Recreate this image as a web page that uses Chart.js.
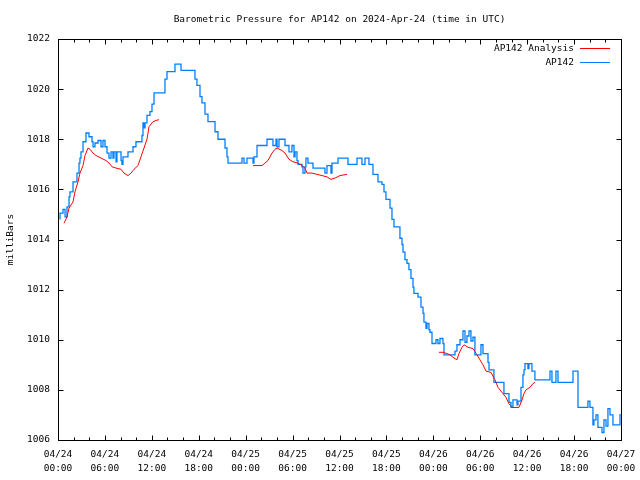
<!DOCTYPE html>
<html>
<head>
<meta charset="utf-8">
<script src="https://cdn.jsdelivr.net/npm/chart.js@4/dist/chart.umd.min.js"></script>
<style>
  html, body { margin: 0; padding: 0; background: #fff; }
  #wrap { width: 640px; height: 480px; }
</style>
</head>
<body>
<div id="wrap"><canvas id="myChart" width="640" height="480"></canvas></div>
<script>
// hours since 2024-04-24 00:00 UTC
const blueHours = [0.26, 0.64, 0.90, 1.15, 1.41, 1.53, 1.92, 2.43, 2.69, 2.81, 2.94, 3.20, 3.58, 3.96, 4.35, 4.48, 4.73, 5.12, 5.50, 5.75,
    6.01, 6.27, 6.52, 6.78, 7.03, 7.16, 7.42, 7.54, 8.06, 8.18, 8.31, 8.95, 9.59, 9.97, 10.74, 10.87, 11.00, 11.13, 11.38, 11.76,
    12.02, 12.28, 13.68, 13.94, 14.96, 15.73, 17.52, 17.77, 18.16, 18.41, 18.80, 19.18, 20.08, 20.46, 21.36, 21.61, 21.74, 23.53, 23.79, 24.17,
    24.94, 25.06, 25.45, 26.73, 27.49, 27.88, 28.01, 28.26, 29.03, 29.54, 29.92, 30.18, 30.31, 30.56, 30.69, 31.20, 31.33, 31.59, 31.71, 31.97,
    32.61, 34.14, 34.40, 34.91, 35.04, 35.81, 37.08, 38.24, 38.87, 39.26, 39.77, 40.28, 40.92, 41.43, 41.69, 41.94, 42.46, 42.71, 42.97, 43.73,
    43.99, 44.12, 44.37, 44.63, 44.88, 45.14, 45.40, 45.52, 46.04, 46.42, 46.68, 46.80, 47.06, 47.19, 47.44, 47.57, 47.83, 48.34, 48.59, 48.85,
    49.23, 49.36, 50.77, 51.02, 51.41, 51.79, 52.05, 52.30, 52.56, 52.81, 53.07, 53.32, 54.09, 54.35, 54.99, 55.12, 55.75, 57.03, 57.67, 57.93,
    58.18, 58.70, 58.82, 59.21, 59.46, 59.59, 59.72, 60.10, 60.23, 60.61, 60.99, 62.92, 63.17, 63.68, 63.94, 65.86, 66.50, 67.77, 68.03, 68.41,
    68.54, 68.80, 69.05, 69.57, 69.82, 70.08, 70.33, 70.59, 70.97, 71.87, 72.0];
const bluePressure = [1014.8, 1015.05, 1015.2, 1014.9, 1015.3, 1015.7, 1015.9, 1016.3, 1016.65, 1017.05, 1017.25, 1017.5, 1017.9, 1018.25, 1018.1, 1017.9, 1017.7, 1017.85, 1017.95, 1017.7,
    1017.95, 1017.7, 1017.45, 1017.25, 1017.5, 1017.25, 1017.5, 1017.1, 1017.5, 1017.15, 1017.0, 1017.3, 1017.5, 1017.7, 1017.9, 1018.15, 1018.65, 1018.45, 1018.65, 1018.95,
    1019.1, 1019.4, 1019.85, 1020.4, 1020.7, 1021.0, 1020.75, 1020.4, 1020.15, 1019.7, 1019.45, 1019.0, 1018.7, 1018.3, 1018.0, 1017.65, 1017.3, 1017.05, 1017.25, 1017.05,
    1017.25, 1017.05, 1017.3, 1017.75, 1018.0, 1017.75, 1018.0, 1017.7, 1018.0, 1017.75, 1017.5, 1017.75, 1017.3, 1017.5, 1017.15, 1017.0, 1016.9, 1016.65, 1016.9, 1017.25,
    1017.05, 1016.85, 1016.65, 1016.95, 1016.65, 1017.05, 1017.25, 1017.0, 1017.25, 1017.0, 1017.25, 1017.0, 1016.6, 1016.3, 1016.2, 1015.9, 1015.6, 1015.25, 1014.8, 1014.5,
    1014.05, 1013.8, 1013.5, 1013.2, 1013.05, 1012.8, 1012.45, 1012.1, 1011.85, 1011.7, 1011.3, 1011.05, 1010.7, 1010.45, 1010.65, 1010.4, 1010.3, 1009.85, 1010.0, 1009.85,
    1010.05, 1009.85, 1009.4, 1009.55, 1009.8, 1010.0, 1010.35, 1009.9, 1010.15, 1010.35, 1009.95, 1010.1, 1009.4, 1009.8, 1009.45, 1009.1, 1008.8, 1008.3, 1007.85, 1007.5,
    1007.3, 1007.6, 1007.4, 1007.55, 1008.1, 1008.6, 1008.8, 1009.05, 1008.85, 1009.05, 1008.75, 1008.4, 1008.75, 1008.3, 1008.75, 1008.3, 1008.75, 1007.3, 1007.55, 1007.3,
    1006.6, 1006.8, 1007.0, 1006.5, 1006.3, 1006.8, 1006.55, 1007.25, 1007.0, 1006.6, 1007.0];

const redHours = [0.77, 1.15, 1.41, 1.92, 2.17, 2.56, 2.81, 3.20, 3.45, 3.84, 4.09, 4.48, 4.86, 5.50, 6.14, 6.52, 6.91, 7.42, 8.06, 8.44,
    8.95, 9.34, 9.72, 10.23, 10.61, 11.00, 11.38, 11.64, 12.15, 12.53, 12.92, 18.0,
    24.94, 26.09, 26.47, 26.85, 27.37, 27.75, 28.01, 28.64, 29.03, 29.54, 30.05, 30.69, 31.20, 31.59, 31.84, 32.48, 33.12, 33.76, 34.40, 34.91,
    35.42, 36.06, 36.96, 42.0,
    48.72, 49.23, 49.74, 50.13, 50.51, 51.02, 51.28, 51.66, 51.92, 52.43, 53.07, 53.58, 53.96, 54.35, 54.73, 55.37, 55.88, 56.27, 56.78, 57.29,
    57.67, 58.06, 58.95, 59.34, 59.59, 59.85, 60.36, 60.74, 61.00];
const redPressure = [1014.65, 1014.9, 1015.25, 1015.5, 1015.9, 1016.3, 1016.65, 1016.95, 1017.35, 1017.65, 1017.6, 1017.45, 1017.35, 1017.25, 1017.15, 1017.05, 1016.9, 1016.85, 1016.8, 1016.65,
    1016.55, 1016.65, 1016.8, 1016.95, 1017.3, 1017.65, 1018.0, 1018.5, 1018.7, 1018.75, 1018.78, null,
    1016.95, 1016.95, 1017.05, 1017.15, 1017.45, 1017.6, 1017.65, 1017.55, 1017.45, 1017.2, 1017.1, 1017.05, 1016.95, 1016.85, 1016.65, 1016.65, 1016.6, 1016.55, 1016.5, 1016.4,
    1016.45, 1016.55, 1016.6, null,
    1009.5, 1009.5, 1009.45, 1009.4, 1009.3, 1009.2, 1009.45, 1009.7, 1009.8, 1009.7, 1009.65, 1009.4, 1009.2, 1009.0, 1008.75, 1008.7, 1008.4, 1008.1, 1007.9, 1007.7,
    1007.45, 1007.3, 1007.3, 1007.6, 1007.85, 1008.0, 1008.1, 1008.25, 1008.3];

const dayLabels = ["04/24", "04/25", "04/26", "04/27"];
const yTicks = [1006, 1008, 1010, 1012, 1014, 1016, 1018, 1020, 1022];

const monoFont = "'DejaVu Sans Mono', 'Liberation Mono', monospace";

function toPoints(xs, ys) {
    return xs.map((h, i) => ({ x: h, y: ys[i] }));
}

// frame, inward ticks and the in-plot legend, gnuplot style
const framePlugin = {
    id: 'frame',
    afterDatasetsDraw(chart) {
        const { ctx, chartArea: a, scales } = chart;
        const l = Math.round(a.left) + 0.5, r = Math.round(a.right) + 0.5;
        const t = Math.round(a.top) + 0.5, b = Math.round(a.bottom) + 0.5;
        ctx.save();
        ctx.strokeStyle = '#000';
        ctx.lineWidth = 1;
        ctx.beginPath();
        // x ticks, major every 6h, minor every 2h
        for (let h = 0; h <= 72; h += 2) {
            const x = Math.round(scales.x.getPixelForValue(h)) + 0.5;
            const len = h % 6 === 0 ? 5 : 3;
            ctx.moveTo(x, b); ctx.lineTo(x, b - len);
            ctx.moveTo(x, t); ctx.lineTo(x, t + len);
        }
        yTicks.forEach(v => {
            const y = Math.round(scales.y.getPixelForValue(v)) + 0.5;
            ctx.moveTo(l, y); ctx.lineTo(l + 5, y);
            ctx.moveTo(r, y); ctx.lineTo(r - 5, y);
        });
        ctx.stroke();
        ctx.strokeRect(l, t, r - l, b - t);

        // legend
        ctx.font = '9.5px ' + monoFont;
        ctx.textAlign = 'right';
        ctx.textBaseline = 'middle';
        chart.data.datasets.forEach((ds, i) => {
            const y = Math.round(a.top + 9 + i * 14) + 0.5;
            ctx.fillStyle = '#000';
            ctx.fillText(ds.label, a.right - 47, y);
            ctx.strokeStyle = ds.borderColor;
            ctx.beginPath();
            ctx.moveTo(a.right - 41, y);
            ctx.lineTo(a.right - 11, y);
            ctx.stroke();
        });
        ctx.restore();
    }
};

document.addEventListener('DOMContentLoaded', () => {
    const ctx = document.getElementById('myChart').getContext('2d');

    new Chart(ctx, {
        type: 'line',
        data: {
            datasets: [
                {
                    label: 'AP142 Analysis',
                    data: toPoints(redHours, redPressure),
                    borderColor: '#ff0000',
                    borderWidth: 1,
                    pointRadius: 0,
                    spanGaps: false,
                },
                {
                    label: 'AP142',
                    data: toPoints(blueHours, bluePressure),
                    borderColor: '#0080ff',
                    borderWidth: 1.3,
                    pointRadius: 0,
                    stepped: 'after',
                }
            ]
        },
        options: {
            responsive: false,
            animation: false,
            layout: { padding: { left: 0, right: 19, top: 0, bottom: 0 } },
            plugins: {
                legend: { display: false },
                tooltip: { enabled: false },
                title: {
                    display: true,
                    fullSize: false,
                    text: 'Barometric Pressure for AP142 on 2024-Apr-24 (time in UTC)',
                    color: '#000',
                    font: { family: monoFont, size: 9.5, weight: 'normal', lineHeight: 1.2 },
                    padding: { top: 14, bottom: 13.6 }
                }
            },
            scales: {
                x: {
                    type: 'linear',
                    min: 0,
                    max: 72,
                    grid: { display: false, drawTicks: false },
                    border: { display: false },
                    afterFit(scale) {
                        scale.height = 40;
                        scale.paddingLeft = 0;
                        scale.paddingRight = 0;
                    },
                    ticks: {
                        stepSize: 6,
                        autoSkip: false,
                        maxRotation: 0,
                        padding: 8,
                        color: '#000',
                        font: { family: monoFont, size: 9.5, lineHeight: 1.45 },
                        callback(v) {
                            const hh = String(v % 24).padStart(2, '0') + ':00';
                            return [dayLabels[Math.floor(v / 24)], hh];
                        }
                    }
                },
                y: {
                    min: 1006,
                    max: 1022,
                    grid: { display: false, drawTicks: false },
                    border: { display: false },
                    afterFit(scale) { scale.width = 58; },
                    afterBuildTicks(scale) { scale.ticks = yTicks.map(v => ({ value: v })); },
                    title: {
                        display: true,
                        text: 'milliBars',
                        color: '#000',
                        font: { family: monoFont, size: 9.5 },
                        padding: { top: 5, bottom: 0 }
                    },
                    ticks: {
                        padding: 8,
                        color: '#000',
                        font: { family: monoFont, size: 9.5 },
                        callback(v) { return String(v); }
                    }
                }
            }
        },
        plugins: [framePlugin]
    });
});
</script>
</body>
</html>
